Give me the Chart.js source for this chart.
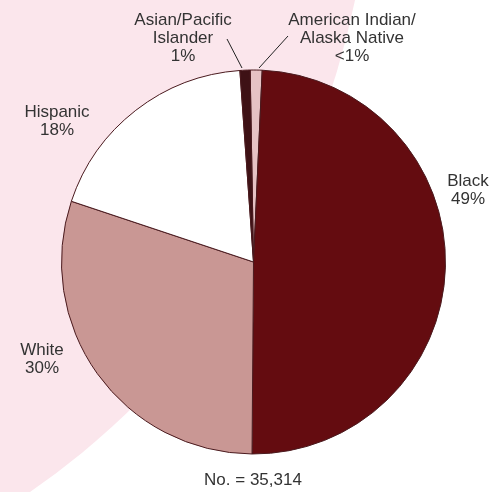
<!DOCTYPE html>
<html><head><meta charset="utf-8">
<script src="https://cdn.jsdelivr.net/npm/chart.js@4"></script>
<style>html,body{margin:0;padding:0;background:#fff;}#wrap{width:503px;height:492px;position:relative;}</style>
</head><body><div id="wrap"><canvas id="c" width="503" height="492"></canvas></div>
<script>
const categories = ["American Indian/Alaska Native", "Black", "White", "Hispanic", "Asian/Pacific Islander"];
const values = [1.0, 49.4, 30.0, 18.75, 0.85];
const valueLabels = ["<1%", "49%", "30%", "18%", "1%"];
const labelLines = [["American Indian/", "Alaska Native"], ["Black"], ["White"], ["Hispanic"], ["Asian/Pacific", "Islander"]];
const totalLabel = "No. = 35,314";
const colors = ["#e6c2c4", "#640c10", "#c99794", "#ffffff", "#3e1115"];

const labelPos = [
  {x: 352, y: 20, lead: [[288, 36], [259, 68]]},
  {x: 468, y: 181},
  {x: 42, y: 350},
  {x: 57, y: 112},
  {x: 183, y: 20, lead: [[227, 39], [242, 68]]}
];

const bgPlugin = {
  id: 'bg',
  beforeDraw(chart) {
    const ctx = chart.ctx;
    ctx.save();
    ctx.fillStyle = '#fbe6ec';
    ctx.beginPath();
    ctx.arc(-419, -158, 790, 0, Math.PI * 2);
    ctx.fill();
    ctx.restore();
  }
};

const labelPlugin = {
  id: 'labels',
  afterDraw(chart) {
    const ctx = chart.ctx;
    ctx.save();
    ctx.fillStyle = '#333333';
    ctx.font = '17px "Liberation Sans", Arial, sans-serif';
    ctx.textAlign = 'center';
    ctx.textBaseline = 'middle';
    const lh = 18;
    categories.forEach((c, i) => {
      const p = labelPos[i];
      const lines = labelLines[i].concat([valueLabels[i]]);
      lines.forEach((t, j) => ctx.fillText(t, p.x, p.y + j * lh));
      if (p.lead) {
        ctx.strokeStyle = '#222';
        ctx.lineWidth = 1;
        ctx.beginPath();
        ctx.moveTo(p.lead[0][0], p.lead[0][1]);
        ctx.lineTo(p.lead[1][0], p.lead[1][1]);
        ctx.stroke();
      }
    });
    ctx.fillText(totalLabel, 253, 480);
    ctx.restore();
  }
};

new Chart(document.getElementById('c'), {
  type: 'pie',
  data: {
    labels: categories,
    datasets: [{
      data: values,
      backgroundColor: colors,
      borderColor: '#4a1a1e',
      borderWidth: 1
    }]
  },
  options: {
    responsive: false,
    animation: false,
    rotation: -1.0,
    layout: {padding: {left: 61, right: 57, top: 69, bottom: 37}},
    plugins: {legend: {display: false}, tooltip: {enabled: false}}
  },
  plugins: [bgPlugin, labelPlugin]
});
</script></body></html>
